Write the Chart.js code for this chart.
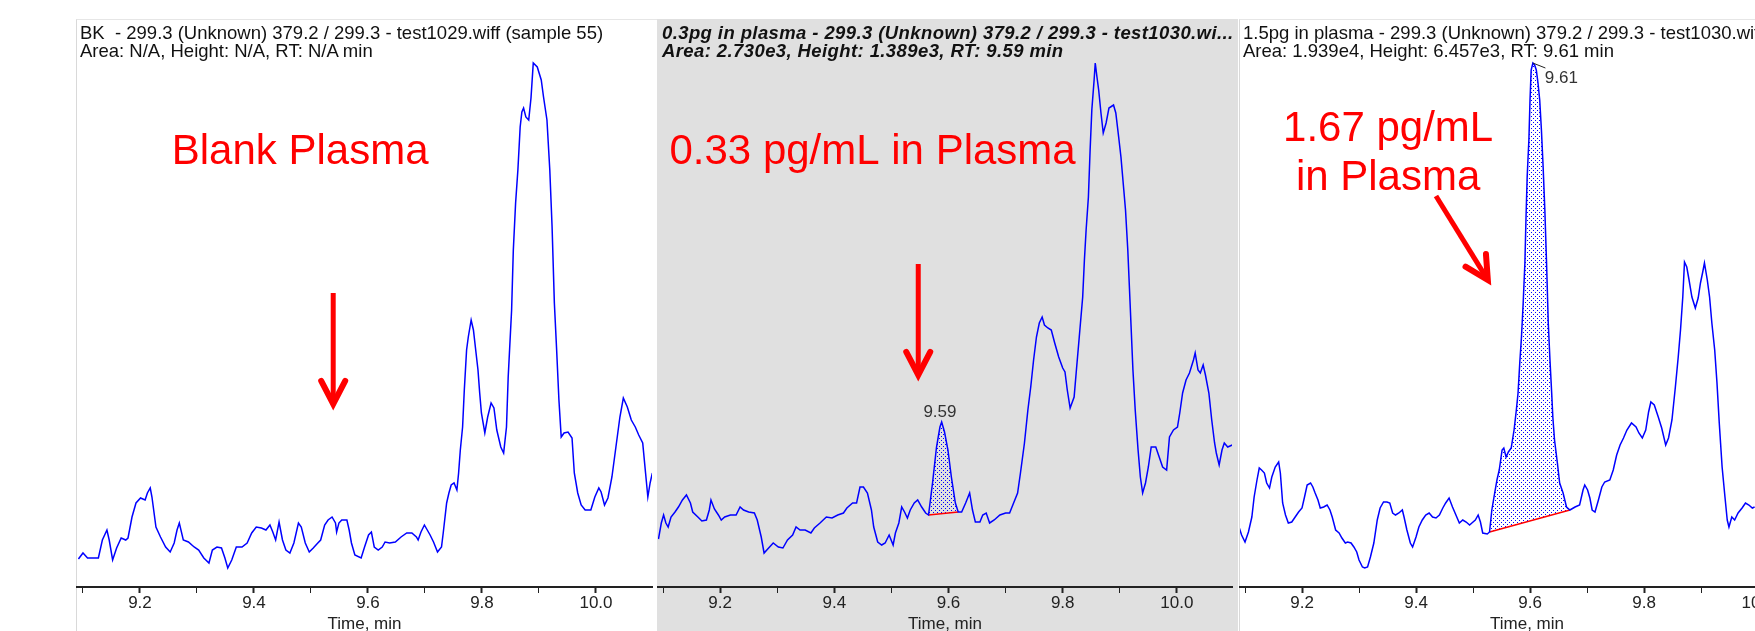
<!DOCTYPE html>
<html>
<head>
<meta charset="utf-8">
<script src="https://cdn.jsdelivr.net/npm/chart.js@4.4.1/dist/chart.umd.min.js"></script>
<style>
  body { margin: 0; width: 1755px; height: 631px; overflow: hidden; position: relative; background: #fff; }
  .bg, canvas, .ttl { position: absolute; }
  .ttl { font-family: "Liberation Sans", Arial, sans-serif; font-size: 18.5px; line-height: 18px; color: #111; white-space: pre; }
  .ttl.bi { font-weight: bold; font-style: italic; letter-spacing: 0.4px; }
</style>
</head>
<body>
<div class="bg" style="left:76px; top:19px; width:580px; height:620px; border-left:1px solid #d9d9d9; border-top:1px solid #e6e6e6;"></div>
<div class="bg" style="left:657px; top:19px; width:581px; height:620px; background:#e0e0e0;"></div>
<div class="bg" style="left:1239px; top:19px; width:600px; height:620px; border-left:1px solid #d9d9d9; border-top:1px solid #e6e6e6;"></div>

<canvas id="bk" width="580" height="650" style="left:76px; top:0;"></canvas>
<canvas id="low" width="581" height="650" style="left:657px; top:0;"></canvas>
<canvas id="high" width="581" height="650" style="left:1239px; top:0;"></canvas>

<div class="ttl" style="left:80px; top:24px;">BK  - 299.3 (Unknown) 379.2 / 299.3 - test1029.wiff (sample 55)
Area: N/A, Height: N/A, RT: N/A min</div>
<div class="ttl bi" style="left:662px; top:24px;">0.3pg in plasma - 299.3 (Unknown) 379.2 / 299.3 - test1030.wi...
Area: 2.730e3, Height: 1.389e3, RT: 9.59 min</div>
<div class="ttl" style="left:1243px; top:24px;">1.5pg in plasma - 299.3 (Unknown) 379.2 / 299.3 - test1030.wiff ...
Area: 1.939e4, Height: 6.457e3, RT: 9.61 min</div>

<script>
// x ticks (min) and which ones get a label
const tickValues = [9.1, 9.2, 9.3, 9.4, 9.5, 9.6, 9.7, 9.8, 9.9, 10.0];
const tickLabels = ['9.2', '9.4', '9.6', '9.8', '10.0'];

// blank plasma trace
const bkTime = [
  9.092, 9.100, 9.108, 9.127, 9.134, 9.142, 9.146, 9.152, 9.159, 9.167,
  9.175, 9.179, 9.186, 9.193, 9.201, 9.209, 9.213, 9.218, 9.221, 9.228,
  9.236, 9.245, 9.253, 9.260, 9.265, 9.269, 9.276, 9.285, 9.295, 9.303,
  9.312, 9.321, 9.327, 9.335, 9.343, 9.349, 9.354, 9.361, 9.369, 9.379,
  9.388, 9.396, 9.404, 9.413, 9.421, 9.428, 9.433, 9.438, 9.444, 9.450,
  9.456, 9.463, 9.470, 9.478, 9.483, 9.490, 9.497, 9.504, 9.512, 9.517,
  9.524, 9.530, 9.537, 9.543, 9.545, 9.549, 9.554, 9.563, 9.567, 9.571,
  9.577, 9.588, 9.594, 9.601, 9.606, 9.611, 9.618, 9.625, 9.630, 9.638,
  9.648, 9.658, 9.668, 9.677, 9.685, 9.688, 9.693, 9.699, 9.704, 9.709,
  9.715, 9.722, 9.729, 9.732, 9.738, 9.742, 9.746, 9.751, 9.756, 9.759,
  9.762, 9.766, 9.769, 9.773, 9.776, 9.781, 9.785, 9.789, 9.793, 9.796,
  9.799, 9.805, 9.810, 9.816, 9.821, 9.826, 9.833, 9.838, 9.843, 9.846,
  9.852, 9.855, 9.859, 9.863, 9.867, 9.870, 9.873, 9.877, 9.882, 9.886,
  9.890, 9.897, 9.904, 9.908, 9.914, 9.919, 9.923, 9.927, 9.931, 9.935,
  9.939, 9.944, 9.951, 9.958, 9.962, 9.968, 9.974, 9.981, 9.991, 9.998,
  10.005, 10.009, 10.015, 10.021, 10.028, 10.035, 10.042, 10.048, 10.055, 10.062,
  10.069, 10.075, 10.082, 10.087, 10.091, 10.095, 10.099
];
const bkIntensity = [
  28, 34, 29, 29, 47, 57, 47, 27, 39, 49,
  47, 49, 70, 84, 89, 87, 94, 99, 90, 60,
  50, 40, 35, 44, 57, 64, 47, 45, 40, 37,
  29, 24, 37, 40, 39, 29, 19, 27, 40, 40,
  44, 54, 60, 59, 57, 62, 55, 47, 65, 47,
  37, 34, 44, 64, 60, 44, 35, 39, 44, 47,
  62, 67, 70, 64, 55, 64, 67, 67, 57, 44,
  32, 29, 40, 52, 55, 40, 37, 40, 45, 44,
  45, 50, 54, 54, 50, 47, 55, 62, 57, 52,
  45, 35, 40, 54, 84, 94, 102, 104, 97, 114,
  137, 160, 197, 237, 250, 267, 257, 237, 217, 194,
  174, 154, 170, 184, 179, 157, 140, 134, 160, 210,
  277, 337, 384, 417, 460, 475, 479, 470, 467, 489,
  524, 520, 507, 490, 467, 417, 360, 284, 237, 187,
  150, 154, 155, 149, 114, 94, 82, 77, 77, 90,
  99, 95, 82, 89, 110, 140, 170, 189, 180, 167,
  160, 152, 144, 114, 90, 104, 114
];

// 0.33 pg/mL trace
const lowTime = [
  9.092, 9.097, 9.101, 9.105, 9.109, 9.114, 9.121, 9.127, 9.134, 9.141,
  9.148, 9.152, 9.161, 9.168, 9.176, 9.181, 9.184, 9.190, 9.197, 9.202,
  9.208, 9.218, 9.228, 9.235, 9.241, 9.250, 9.260, 9.265, 9.272, 9.277,
  9.285, 9.293, 9.302, 9.310, 9.318, 9.327, 9.333, 9.340, 9.349, 9.359,
  9.365, 9.375, 9.386, 9.396, 9.406, 9.416, 9.422, 9.432, 9.439, 9.445,
  9.451, 9.458, 9.465, 9.469, 9.476, 9.483, 9.489, 9.496, 9.503, 9.507,
  9.513, 9.518, 9.523, 9.528, 9.533, 9.540, 9.546, 9.553, 9.560, 9.565,
  9.572, 9.579, 9.585, 9.588, 9.593, 9.599, 9.605, 9.612, 9.617, 9.623,
  9.630, 9.637, 9.642, 9.647, 9.655, 9.660, 9.666, 9.672, 9.680, 9.690,
  9.700, 9.707, 9.714, 9.721, 9.726, 9.733, 9.739, 9.744, 9.749, 9.754,
  9.759, 9.764, 9.768, 9.774, 9.780, 9.786, 9.793, 9.800, 9.804, 9.808,
  9.813, 9.820, 9.824, 9.829, 9.835, 9.838, 9.841, 9.845, 9.848, 9.851,
  9.855, 9.857, 9.860, 9.863, 9.867, 9.871, 9.876, 9.881, 9.889, 9.893,
  9.898, 9.902, 9.907, 9.910, 9.914, 9.918, 9.923, 9.927, 9.932, 9.936,
  9.940, 9.945, 9.950, 9.955, 9.963, 9.969, 9.975, 9.982, 9.987, 9.994,
  10.001, 10.005, 10.010, 10.016, 10.022, 10.029, 10.032, 10.037, 10.041, 10.046,
  10.050, 10.056, 10.061, 10.066, 10.069, 10.074, 10.079, 10.083, 10.089, 10.097
];
const lowIntensity = [
  48, 64, 72, 64, 60, 70, 75, 80, 87, 92,
  84, 75, 70, 66, 67, 77, 87, 78, 72, 67,
  70, 72, 72, 80, 77, 75, 74, 67, 50, 34,
  39, 44, 40, 39, 47, 52, 60, 57, 57, 54,
  59, 64, 70, 69, 72, 74, 79, 84, 84, 100,
  100, 94, 77, 60, 45, 42, 44, 52, 42, 54,
  64, 80, 75, 69, 77, 84, 87, 80, 74, 72,
  104, 140, 160, 165, 155, 137, 110, 84, 75, 75,
  84, 94, 77, 65, 65, 72, 74, 64, 67, 72,
  74, 74, 84, 94, 114, 144, 177, 200, 227, 250,
  264, 270, 262, 259, 257, 244, 230, 219, 215, 197,
  179, 190, 217, 250, 290, 327, 357, 390, 437, 477,
  507, 524, 510, 497, 474, 454, 464, 479, 482, 474,
  450, 430, 397, 377, 337, 284, 217, 177, 137, 110,
  94, 104, 120, 140, 140, 130, 120, 117, 150, 157,
  160, 174, 194, 207, 214, 227, 234, 217, 214, 222,
  212, 194, 167, 144, 134, 122, 137, 144, 140, 142
];
const lowBaseTime = [9.565, 9.617];
const lowBaseIntensity = [72, 75];

// 1.67 pg/mL trace
const highTime = [
  9.090, 9.094, 9.100, 9.106, 9.112, 9.116, 9.121, 9.125, 9.129, 9.134,
  9.138, 9.143, 9.147, 9.153, 9.159, 9.162, 9.166, 9.171, 9.176, 9.182,
  9.188, 9.194, 9.200, 9.204, 9.209, 9.215, 9.219, 9.223, 9.228, 9.232,
  9.238, 9.244, 9.249, 9.253, 9.259, 9.265, 9.270, 9.276, 9.280, 9.286,
  9.291, 9.296, 9.300, 9.306, 9.310, 9.315, 9.320, 9.326, 9.332, 9.337,
  9.343, 9.349, 9.354, 9.359, 9.364, 9.370, 9.376, 9.379, 9.384, 9.390,
  9.394, 9.400, 9.405, 9.411, 9.417, 9.423, 9.429, 9.435, 9.441, 9.447,
  9.452, 9.458, 9.464, 9.470, 9.476, 9.482, 9.488, 9.494, 9.498, 9.504,
  9.509, 9.513, 9.517, 9.525, 9.529, 9.533, 9.538, 9.542, 9.546, 9.551,
  9.554, 9.558, 9.562, 9.567, 9.572, 9.576, 9.579, 9.582, 9.585, 9.588,
  9.591, 9.593, 9.595, 9.598, 9.600, 9.602, 9.605, 9.608, 9.611, 9.614,
  9.617, 9.620, 9.623, 9.626, 9.629, 9.632, 9.635, 9.638, 9.640, 9.643,
  9.648, 9.652, 9.658, 9.664, 9.670, 9.679, 9.687, 9.693, 9.696, 9.701,
  9.705, 9.709, 9.714, 9.720, 9.726, 9.731, 9.740, 9.746, 9.752, 9.758,
  9.764, 9.770, 9.778, 9.786, 9.791, 9.797, 9.803, 9.808, 9.812, 9.818,
  9.825, 9.831, 9.838, 9.843, 9.849, 9.855, 9.860, 9.864, 9.868, 9.871,
  9.875, 9.879, 9.884, 9.890, 9.895, 9.899, 9.903, 9.906, 9.911, 9.915,
  9.919, 9.924, 9.928, 9.932, 9.937, 9.942, 9.946, 9.949, 9.954, 9.959,
  9.965, 9.972, 9.978, 9.984, 9.990, 9.994
];
const highIntensity = [
  59, 52, 45, 55, 70, 90, 107, 119, 117, 114,
  104, 99, 110, 120, 125, 114, 84, 72, 64, 65,
  70, 75, 79, 89, 102, 104, 100, 94, 87, 79,
  80, 82, 77, 70, 57, 54, 49, 44, 45, 44,
  40, 35, 27, 20, 19, 20, 30, 44, 67, 79,
  85, 85, 84, 74, 72, 74, 77, 70, 57, 44,
  40, 50, 60, 67, 72, 74, 70, 69, 72, 79,
  84, 89, 80, 72, 64, 67, 65, 62, 64, 67,
  72, 65, 54, 53, 55, 77, 94, 107, 117, 137,
  139, 130, 135, 139, 157, 177, 194, 224, 250, 284,
  324, 370, 410, 447, 487, 517, 524, 522, 517, 504,
  487, 457, 420, 377, 324, 264, 227, 194, 170, 147,
  124, 104, 94, 80, 77, 80, 82, 97, 102, 97,
  89, 77, 75, 87, 100, 105, 107, 117, 132, 142,
  149, 157, 164, 160, 154, 149, 157, 175, 185, 182,
  170, 159, 142, 149, 167, 200, 230, 257, 290, 325,
  320, 307, 290, 279, 289, 304, 315, 324, 307, 290,
  264, 237, 204, 164, 120, 90, 67, 60, 70, 67,
  74, 79, 84, 82, 79, 80
];
const highBaseTime = [9.529, 9.670];
const highBaseIntensity = [55, 77];

const FONT = '"Liberation Sans", Arial, sans-serif';

const toPoints = (ts, vs) => ts.map((t, i) => ({ x: t, y: vs[i] }));
const between = (pts, range) => pts.filter(p => p.x >= range[0] && p.x <= range[1]);

function dots(canvasId) {
  const c = document.createElement('canvas');
  c.width = 4; c.height = 4;
  const g = c.getContext('2d');
  g.fillStyle = '#0000ff';
  g.fillRect(0, 0, 1, 1);
  g.fillRect(2, 2, 1, 1);
  return document.getElementById(canvasId).getContext('2d').createPattern(c, 'repeat');
}

// red captions, arrows and peak labels, placed in data units
const notes = {
  id: 'notes',
  afterDatasetsDraw(chart, args, opts) {
    const { ctx } = chart;
    const sx = chart.scales.x, sy = chart.scales.y;
    ctx.save();
    (opts.leaders || []).forEach(l => {
      ctx.strokeStyle = '#222';
      ctx.lineWidth = 1;
      ctx.beginPath();
      ctx.moveTo(sx.getPixelForValue(l.from[0]), sy.getPixelForValue(l.from[1]));
      ctx.lineTo(sx.getPixelForValue(l.to[0]), sy.getPixelForValue(l.to[1]));
      ctx.stroke();
    });
    (opts.arrows || []).forEach(a => {
      const x0 = sx.getPixelForValue(a.from[0]), y0 = sy.getPixelForValue(a.from[1]);
      const x1 = sx.getPixelForValue(a.to[0]), y1 = sy.getPixelForValue(a.to[1]);
      const ang = Math.atan2(y1 - y0, x1 - x0);
      ctx.strokeStyle = '#ff0000';
      ctx.lineWidth = 5;
      ctx.lineCap = 'butt';
      ctx.beginPath();
      ctx.moveTo(x0, y0);
      ctx.lineTo(x1 - 4 * Math.cos(ang), y1 - 4 * Math.sin(ang));
      ctx.stroke();
      ctx.lineWidth = 6;
      ctx.lineJoin = 'miter';
      ctx.lineCap = 'round';
      ctx.beginPath();
      ctx.moveTo(x1 - 26 * Math.cos(ang - 0.48), y1 - 26 * Math.sin(ang - 0.48));
      ctx.lineTo(x1, y1);
      ctx.lineTo(x1 - 26 * Math.cos(ang + 0.48), y1 - 26 * Math.sin(ang + 0.48));
      ctx.stroke();
    });
    (opts.labels || []).forEach(l => {
      ctx.font = l.font;
      ctx.fillStyle = l.color;
      ctx.textAlign = l.align || 'center';
      ctx.textBaseline = 'alphabetic';
      ctx.fillText(l.text, sx.getPixelForValue(l.x), sy.getPixelForValue(l.y));
    });
    ctx.restore();
  }
};

function xAxis(min, max) {
  return {
    type: 'linear',
    min: min,
    max: max,
    afterBuildTicks: s => { s.ticks = tickValues.map(v => ({ value: v })); },
    afterFit: s => { s.height = 63; },
    ticks: {
      autoSkip: false,
      maxRotation: 0,
      padding: 0,
      color: '#222',
      font: { family: FONT, size: 17 },
      callback: v => tickLabels.includes(v.toFixed(1)) ? v.toFixed(1) : ''
    },
    grid: {
      drawOnChartArea: false,
      drawTicks: true,
      tickLength: 6,
      tickColor: '#222',
      tickWidth: c => (c.tick && tickLabels.includes(c.tick.value.toFixed(1))) ? 2 : 1
    },
    border: { display: true, color: '#222', width: 2 },
    title: {
      display: true,
      text: 'Time, min',
      color: '#222',
      font: { family: FONT, size: 17 },
      padding: { top: 0, bottom: 15 }
    }
  };
}

function makeChart(id, trace, base, peak, pattern, xmin, xmax, padRight, noteOpts) {
  const datasets = [
    { data: trace, borderColor: '#0000ff', borderWidth: 1.5, pointRadius: 0, tension: 0, fill: false, order: 0 }
  ];
  if (base) {
    datasets.push({ data: base, borderColor: '#ff0000', borderWidth: 1.5, pointRadius: 0, fill: false, order: 1 });
    datasets.push({ data: peak, borderWidth: 0, borderColor: 'rgba(0,0,0,0)', pointRadius: 0, fill: 1, backgroundColor: pattern, order: 2 });
  }
  return new Chart(document.getElementById(id), {
    type: 'line',
    data: { datasets: datasets },
    plugins: [notes],
    options: {
      responsive: false,
      animation: false,
      events: [],
      layout: { padding: { left: 1, right: padRight, top: 50, bottom: 0 } },
      scales: {
        x: xAxis(xmin, xmax),
        y: { display: false, min: 0, max: 537 }
      },
      plugins: { legend: { display: false }, tooltip: { enabled: false }, notes: noteOpts }
    }
  });
}

const big = '42px ' + FONT;
const small = '17px ' + FONT;

makeChart('bk', toPoints(bkTime, bkIntensity), null, null, null, 9.0895, 10.0983, 4, {
  labels: [{ text: 'Blank Plasma', x: 9.481, y: 423, font: big, color: '#ff0000' }],
  arrows: [{ from: [9.539, 294], to: [9.539, 183] }]
});

const lowPts = toPoints(lowTime, lowIntensity);
makeChart('low', lowPts, toPoints(lowBaseTime, lowBaseIntensity), between(lowPts, lowBaseTime), dots('low'),
  9.0912, 10.0965, 6, {
  labels: [
    { text: '0.33 pg/mL in Plasma', x: 9.467, y: 423, font: big, color: '#ff0000' },
    { text: '9.59', x: 9.585, y: 170, font: small, color: '#333' }
  ],
  arrows: [{ from: [9.547, 323], to: [9.547, 212] }]
});

const highPts = toPoints(highTime, highIntensity);
makeChart('high', highPts, toPoints(highBaseTime, highBaseIntensity), between(highPts, highBaseTime), dots('high'),
  9.0912, 10.0982, 6, {
  labels: [
    { text: '1.67 pg/mL', x: 9.351, y: 446, font: big, color: '#ff0000' },
    { text: 'in Plasma', x: 9.351, y: 397, font: big, color: '#ff0000' },
    { text: '9.61', x: 9.626, y: 504, font: small, color: '#333', align: 'left' }
  ],
  arrows: [{ from: [9.435, 391], to: [9.526, 307] }],
  leaders: [{ from: [9.605, 524], to: [9.627, 519] }]
});
</script>
</body>
</html>
